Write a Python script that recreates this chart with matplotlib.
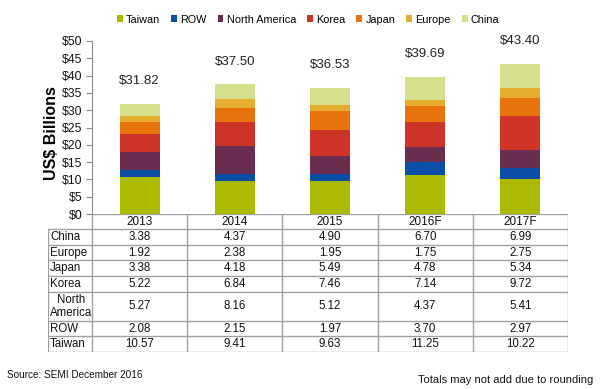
import numpy as np
import matplotlib.pyplot as plt

plt.rcParams['font.family'] = ['Liberation Sans', 'DejaVu Sans']

# Datos (US$ mil millones)
anos = ['2013', '2014', '2015', '2016F', '2017F']
taiwan = [10.57, 9.41, 9.63, 11.25, 10.22]
row = [2.08, 2.15, 1.97, 3.70, 2.97]
north_america = [5.27, 8.16, 5.12, 4.37, 5.41]
korea = [5.22, 6.84, 7.46, 7.14, 9.72]
japan = [3.38, 4.18, 5.49, 4.78, 5.34]
europe = [1.92, 2.38, 1.95, 1.75, 2.75]
china = [3.38, 4.37, 4.90, 6.70, 6.99]
totales = [31.82, 37.50, 36.53, 39.69, 43.40]

regiones = ['Taiwan', 'ROW', 'North America', 'Korea', 'Japan', 'Europe', 'China']
series = [taiwan, row, north_america, korea, japan, europe, china]
colores = ['#abba00', '#0a4ea6', '#6a2d4f', '#cf3429', '#e6730c', '#e5ae2e', '#d6e08c']

W, H = 600, 389
fig = plt.figure(figsize=(6, 3.89), dpi=100)

# ejes del grafico: x de 92 a 568 px, y de 41 a 214 px
ax = fig.add_axes([92 / W, 1 - 214 / H, (568 - 92) / W, (214 - 41) / H])
x = np.arange(len(anos))
base = np.zeros(len(anos))
for nombre, vals, c in zip(regiones, series, colores):
    ax.bar(x, vals, 0.42, bottom=base, color=c, label=nombre, linewidth=0)
    base = base + np.array(vals)

for xi, t in zip(x, totales):
    ax.annotate('$%.2f' % t, (xi, t), xytext=(0, 12), textcoords='offset points',
                ha='center', va='bottom', fontsize=9.5, color='#222222')

ax.set_xlim(-0.5, 4.5)
ax.set_ylim(0, 50)
ax.set_yticks(np.arange(0, 51, 5))
ax.set_yticklabels(['$%d' % v for v in range(0, 51, 5)], fontsize=8.8)
ax.set_xticks([])
for s in ['top', 'right', 'bottom']:
    ax.spines[s].set_visible(False)
ax.spines['left'].set_color('#8c8c8c')
ax.tick_params(axis='y', direction='out', length=4, color='#8c8c8c', pad=3, labelcolor='#111111')
ax.set_ylabel('US$ Billions', fontsize=11.5, fontweight='bold')
ax.yaxis.set_label_coords(-0.07, 0.47)

ax.legend(loc='lower center', bbox_to_anchor=(0.454, 1.07), ncol=7, frameon=False,
          fontsize=7.8, handlelength=0.55, handleheight=0.55, handletextpad=0.3,
          columnspacing=1.0, borderaxespad=0)

# tabla debajo del grafico
tax = fig.add_axes([48 / W, 1 - 352 / H, (568 - 48) / W, (352 - 214) / H])
col_izq = -0.5 - 44 / 95.2
tax.set_xlim(col_izq, 4.5)
tax.set_ylim(138, 0)
tax.axis('off')

filas = ['China', 'Europe', 'Japan', 'Korea', 'North\nAmerica', 'ROW', 'Taiwan']
valores = [china, europe, japan, korea, north_america, row, taiwan]
alturas = [15.67, 15.67, 15.67, 15.67, 29, 15.67, 15.67]
gris = '#a0a0a0'

bordes = [0, 15]
for h in alturas:
    bordes.append(bordes[-1] + h)

tax.plot([-0.5, 4.5], [0, 0], color=gris, lw=1)
for b in bordes[1:]:
    tax.plot([col_izq, 4.5], [b, b], color=gris, lw=1)
tax.plot([col_izq, col_izq], [15, bordes[-1]], color=gris, lw=1)
for xv in np.arange(-0.5, 5, 1):
    tax.plot([xv, xv], [0, bordes[-1]], color=gris, lw=1)

for xi, a in zip(x, anos):
    tax.text(xi, 8, a, ha='center', va='center', fontsize=8.5, color='#111111')
for i, (nombre, vals) in enumerate(zip(filas, valores)):
    yc = (bordes[i + 1] + bordes[i + 2]) / 2
    tax.text(col_izq + 0.02, yc, nombre, ha='left', va='center', multialignment='center',
             fontsize=8.3, color='#111111', linespacing=1.1)
    for xi, v in zip(x, vals):
        tax.text(xi, yc, '%.2f' % v, ha='center', va='center', fontsize=8.3, color='#111111')

fig.text(7 / W, 1 - 375 / H, 'Source: SEMI December 2016', fontsize=7.2, va='center', color='#111111')
fig.text(593 / W, 1 - 380 / H, 'Totals may not add due to rounding', fontsize=8, ha='right',
         va='center', color='#111111')

fig.savefig('out.png', dpi=100)
